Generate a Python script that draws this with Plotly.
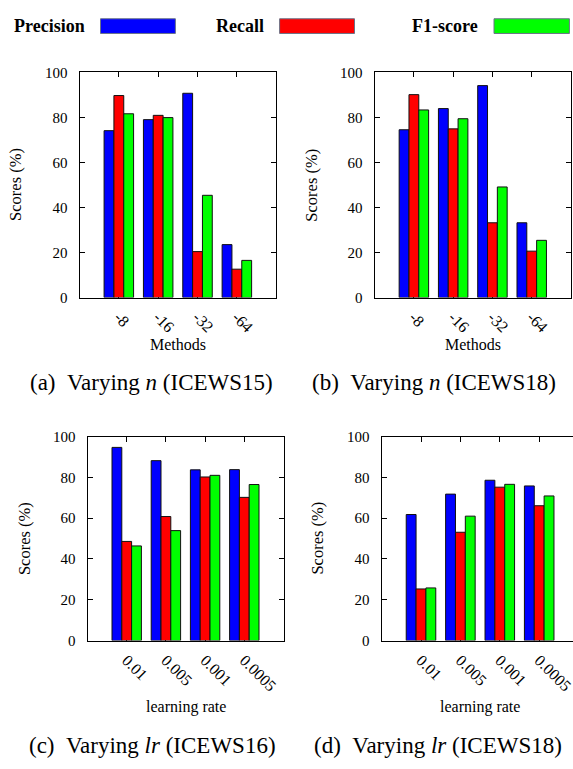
import plotly.graph_objects as go

# ---------------- data ----------------
n_labels = ["-8", "-16", "-32", "-64"]
a_prec = [74.1, 79.0, 90.7, 23.5]
a_rec = [89.7, 80.9, 20.4, 12.6]
a_f1 = [81.6, 79.9, 45.4, 16.5]

b_prec = [74.5, 83.9, 94.1, 33.2]
b_rec = [90.1, 74.9, 33.2, 20.6]
b_f1 = [83.3, 79.4, 49.1, 25.4]

lr_labels = ["0.01", "0.005", "0.001", "0.0005"]
c_prec = [94.7, 88.2, 83.7, 83.8]
c_rec = [48.6, 60.8, 80.2, 70.2]
c_f1 = [46.4, 53.9, 81.0, 76.5]

d_prec = [61.8, 71.8, 78.6, 75.8]
d_rec = [25.3, 53.1, 75.2, 66.1]
d_f1 = [25.8, 61.0, 76.6, 70.9]

series_names = ["Precision", "Recall", "F1-score"]
series_colors = ["#0000ff", "#ff0000", "#00ff00"]
y_ticks = [0, 20, 40, 60, 80, 100]

SP = "\u00a0\u00a0"
captions = ["(a)" + SP + "Varying <i>n</i> (ICEWS15)", "(b)" + SP + "Varying <i>n</i> (ICEWS18)",
            "(c)" + SP + "Varying <i>lr</i> (ICEWS16)", "(d)" + SP + "Varying <i>lr</i> (ICEWS18)"]
x_titles = ["Methods", "Methods", "learning rate", "learning rate"]
y_title = "Scores (%)"

# ---------------- layout geometry (pixels) ----------------
W, H = 580, 769
FONT = "Liberation Serif, Times New Roman, serif"

panels = [
    dict(labels=n_labels, vals=[a_prec, a_rec, a_f1], x0=79.5, x1=276.2, y0=65.7, y1=295.7,
         ytx=16, xty=343.3, cap=(151.7, 382.7)),
    dict(labels=n_labels, vals=[b_prec, b_rec, b_f1], x0=374.6, x1=571.0, y0=65.7, y1=295.7,
         ytx=311.7, xty=343.3, cap=(434.0, 382.7)),
    dict(labels=lr_labels, vals=[c_prec, c_rec, c_f1], x0=87.5, x1=283.5, y0=437.7, y1=646.0,
         ytx=24.5, xty=714.0, cap=(152.6, 753.6)),
    dict(labels=lr_labels, vals=[d_prec, d_rec, d_f1], x0=381.6, x1=578.6, y0=437.7, y1=646.0,
         ytx=318.0, xty=714.0, cap=(437.7, 753.6)),
]

def px(x):
    return x / W

def py(y):
    return 1 - y / H

fig = go.Figure()
annotations = []
shapes = []

def ann(x, y, text, size, angle=0, xanchor="center"):
    return dict(xref="paper", yref="paper", x=px(x), y=py(y), text=text, textangle=angle,
                xanchor=xanchor, yanchor="middle", showarrow=False,
                font=dict(family=FONT, size=size, color="black"))

for i, p in enumerate(panels):
    k = "" if i == 0 else str(i + 1)
    for s in range(3):
        fig.add_trace(go.Bar(
            x=p["labels"], y=p["vals"][s], name=series_names[s],
            marker=dict(color=series_colors[s], line=dict(color="#111111", width=1)),
            xaxis="x" + k, yaxis="y" + k, showlegend=False,
        ))
    axis_common = dict(showline=True, linecolor="black", linewidth=1, mirror="ticks",
                       ticks="inside", tickcolor="black", ticklen=5, showgrid=False,
                       zeroline=False)
    fig.layout["xaxis" + k] = dict(
        axis_common, domain=[px(p["x0"]), px(p["x1"])], anchor="y" + k,
        type="category", categoryorder="array", categoryarray=p["labels"],
        range=[-1, 4], tickangle=45, layer="below traces", ticklabelstandoff=3,
        tickfont=dict(family=FONT, size=16, color="black"),
    )
    fig.layout["yaxis" + k] = dict(
        axis_common, domain=[py(p["y1"]), py(p["y0"])], anchor="x" + k,
        range=[0, 100], tickvals=y_ticks, ticklabelstandoff=8,
        tickfont=dict(family=FONT, size=15, color="black"),
    )
    annotations.append(ann(p["ytx"], (p["y0"] + p["y1"]) / 2, y_title, 16.5, angle=-90))
    annotations.append(ann((p["x0"] + p["x1"]) / 2, p["xty"], x_titles[i], 16))
    annotations.append(ann(p["cap"][0], p["cap"][1], captions[i], 23))

# legend (text followed by a colour box)
leg_box_x = [(100.5, 175.4), (279.6, 354.5), (494.0, 569.4)]
for s in range(3):
    annotations.append(ann(leg_box_x[s][0] - 14, 18.5, "<b>" + series_names[s] + "</b>", 18,
                           xanchor="right"))
    shapes.append(dict(type="rect", xref="paper", yref="paper",
                       x0=px(leg_box_x[s][0]), x1=px(leg_box_x[s][1]), y0=py(26), y1=py(11),
                       fillcolor=series_colors[s], line=dict(color="#6a7388", width=1)))

fig.update_layout(
    width=W, height=H, margin=dict(l=0, r=0, t=0, b=0),
    paper_bgcolor="white", plot_bgcolor="white",
    barmode="group", bargap=0.25, bargroupgap=0,
    annotations=annotations, shapes=shapes,
    font=dict(family=FONT, color="black"),
)

fig.write_html("out.html", config={"displayModeBar": False},
               post_script="document.body.style.margin='0';document.body.style.overflow='hidden';")
